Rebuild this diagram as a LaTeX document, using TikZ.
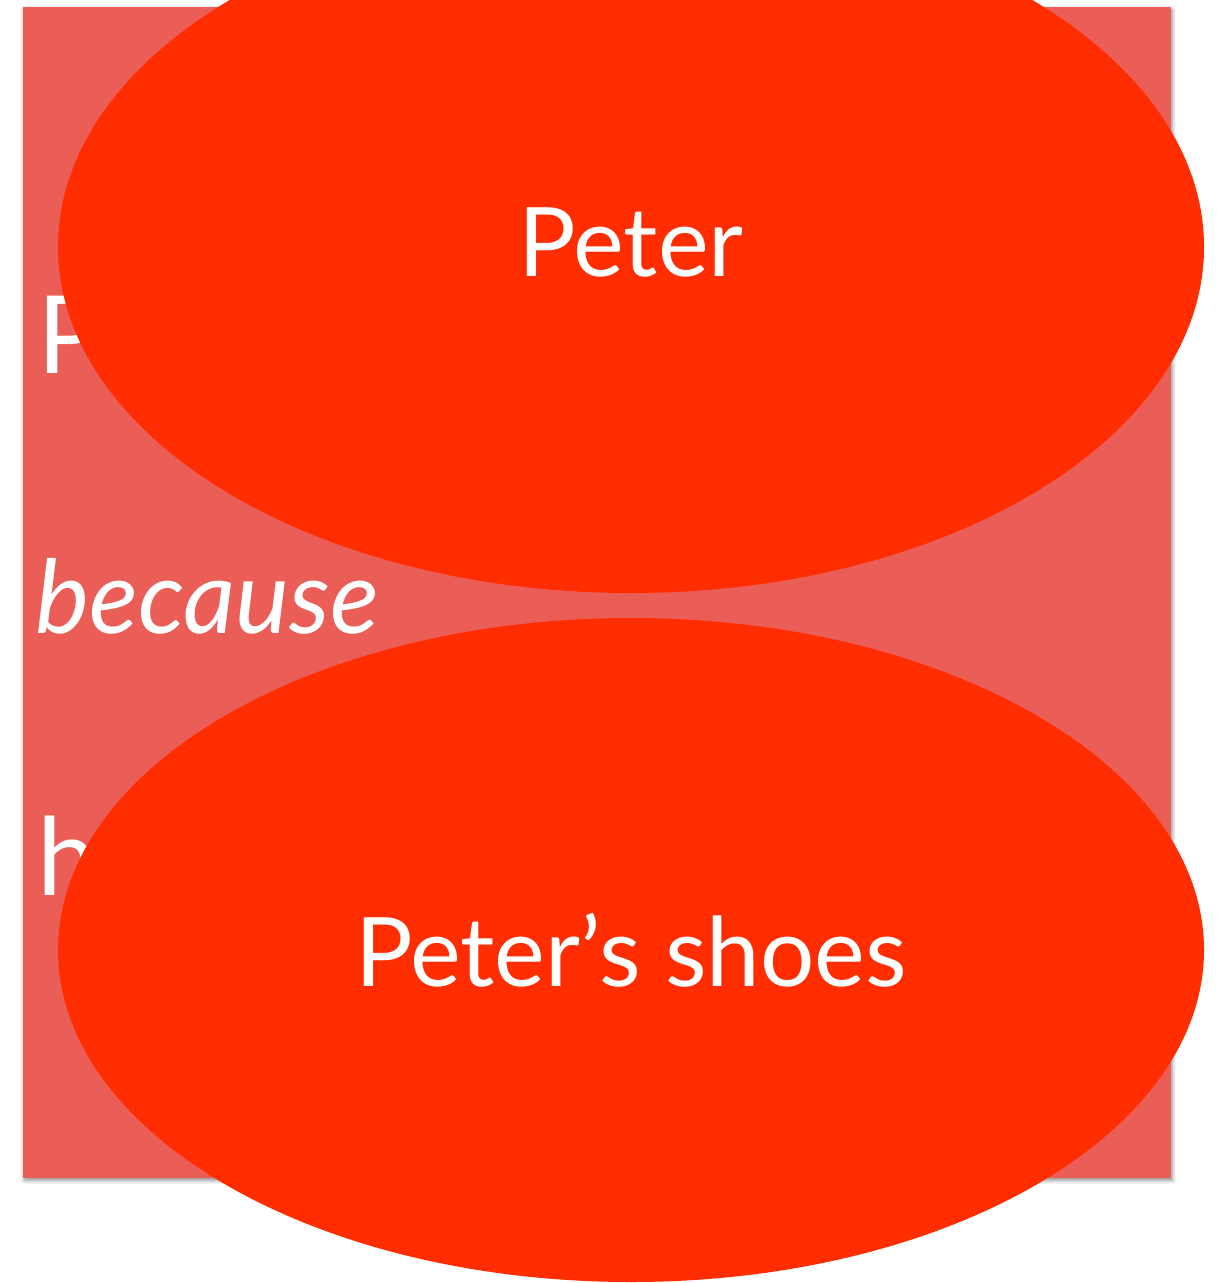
\documentclass[tikz,border=0pt]{standalone}
\usepackage{fontspec}
\setmainfont{Lato}
\usetikzlibrary{shapes.geometric,shadows.blur}
\definecolor{slidered}{HTML}{EB5E58}
\definecolor{blobred}{HTML}{FF2D00}

\begin{document}
\begin{tikzpicture}[x=0.5pt,y=-0.5pt,
    blob/.style={ellipse,fill=blobred,inner sep=0pt,text=white,font=\fontsize{48}{52}\selectfont},
    slidetext/.style={anchor=base west,inner sep=0pt,text=white,font=\fontsize{54}{58}\selectfont}]
\useasboundingbox (0,0) rectangle (1216,1283);
\fill[slidered,blur shadow={shadow xshift=0.6pt,shadow yshift=-1.2pt,shadow blur radius=2pt,shadow opacity=45}]
    (23,7) rectangle (1171,1178);
    \node[slidetext] (lineP) at (37,373) {P};
    \node[slidetext,font=\fontsize{51}{55}\selectfont\itshape] (because) at (35,633) {because};
    \node[slidetext] (lineH) at (37,895) {h};
    \node[blob,minimum width=573pt,minimum height=346pt,text depth=4.5pt] (peter) at (631,247) {Peter};
    \node[blob,minimum width=573pt,minimum height=332pt] (shoes) at (631,950) {Peter’s shoes};

\end{tikzpicture}
\end{document}
